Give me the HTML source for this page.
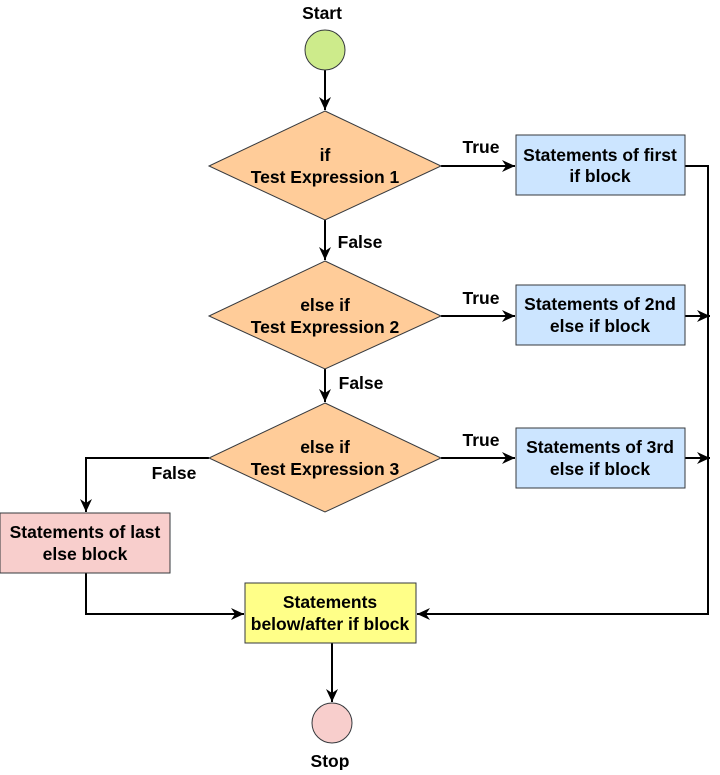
<!DOCTYPE html>
<html><head><meta charset="utf-8"><style>
html,body{margin:0;padding:0;background:#fff;}
svg text{font-family:"Liberation Sans",Arial,sans-serif;font-weight:bold;font-size:17.5px;fill:#000;}
</style></head><body>
<svg width="720" height="770" viewBox="0 0 720 770" xmlns="http://www.w3.org/2000/svg">
<defs>
<marker id="a" markerWidth="14" markerHeight="14" refX="13" refY="6" orient="auto" markerUnits="userSpaceOnUse">
<path d="M0,0 L13,6 L0,12 L4,6 Z" fill="#000"/>
</marker>
</defs>
<g stroke="#000" stroke-width="2" fill="none">
<line x1="325" y1="70" x2="325" y2="110" marker-end="url(#a)"/>
<line x1="325" y1="220" x2="325" y2="260" marker-end="url(#a)"/>
<line x1="325" y1="369" x2="325" y2="402" marker-end="url(#a)"/>
<line x1="441" y1="166" x2="515" y2="166" marker-end="url(#a)"/>
<line x1="441" y1="316" x2="515" y2="316" marker-end="url(#a)"/>
<line x1="441" y1="458" x2="515" y2="458" marker-end="url(#a)"/>
<polyline points="685,166 708,166 708,614 417,614" marker-end="url(#a)"/>
<line x1="685" y1="316" x2="710" y2="316" marker-end="url(#a)"/>
<line x1="685" y1="458" x2="710" y2="458" marker-end="url(#a)"/>
<polyline points="209,458 86,458 86,512" marker-end="url(#a)"/>
<polyline points="86,573 86,614 244,614" marker-end="url(#a)"/>
<line x1="332" y1="643" x2="332" y2="702" marker-end="url(#a)"/>
</g>
<circle cx="325" cy="50" r="20" fill="#cdeb8b" stroke="#36393d" stroke-width="1"/>
<ellipse cx="332" cy="723" rx="20" ry="20" fill="#f8cecc" stroke="#36393d" stroke-width="1"/>
<g fill="#ffcc99" stroke="#36393d" stroke-width="1">
<polygon points="325,111 441,166 325,220 209,166"/>
<polygon points="325,261 441,316 325,369 209,316"/>
<polygon points="325,403 441,458 325,512 209,458"/>
</g>
<g stroke="#36393d" stroke-width="1">
<rect x="516" y="135" width="169" height="60" fill="#cce5ff"/>
<rect x="516" y="285" width="169" height="60" fill="#cce5ff"/>
<rect x="516" y="428" width="169" height="60" fill="#cce5ff"/>
<rect x="0" y="513" width="170" height="60" fill="#f8cecc"/>
<rect x="245" y="583" width="171" height="60" fill="#ffff88"/>
</g>
<g text-anchor="middle">
<text x="322" y="19">Start</text>
<text x="330" y="767">Stop</text>
<text x="325" y="161">if</text><text x="325" y="183">Test Expression 1</text>
<text x="325" y="311">else if</text><text x="325" y="333">Test Expression 2</text>
<text x="325" y="453">else if</text><text x="325" y="475">Test Expression 3</text>
<text x="600" y="161">Statements of first</text><text x="600" y="182">if block</text>
<text x="600" y="310">Statements of 2nd</text><text x="600" y="332">else if block</text>
<text x="600" y="453">Statements of 3rd</text><text x="600" y="475">else if block</text>
<text x="85" y="538">Statements of last</text><text x="85" y="560">else block</text>
<text x="330" y="608">Statements</text><text x="330" y="630">below/after if block</text>
<text x="481" y="153">True</text>
<text x="481" y="304">True</text>
<text x="481" y="446">True</text>
<text x="360" y="248">False</text>
<text x="361" y="389">False</text>
<text x="174" y="479">False</text>
</g>
</svg>
</body></html>
